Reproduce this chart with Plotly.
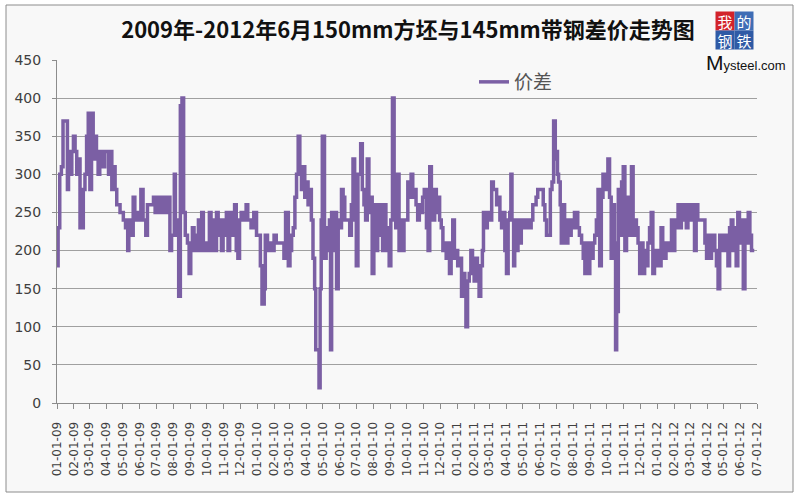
import pandas as pd
import plotly.graph_objects as go

title_text = "2009年-2012年6月150mm方坯与145mm带钢差价走势图"
series_name = "价差"
start_date = "2009-01-01"
end_date = "2012-07-01"

# days after 2009-01-01
day_offsets = [
    0, 2, 5, 8, 11, 17, 19, 21, 24, 27, 30, 33, 36, 39, 42, 46, 48, 51, 54, 57,
    60, 63, 66, 69, 72, 75, 78, 84, 87, 94, 97, 100, 103, 106, 109, 115, 121, 125, 129, 131,
    135, 139, 142, 147, 150, 153, 157, 162, 165, 170, 176, 179, 182, 188, 191, 197, 202, 206, 209, 214,
    216, 220, 222, 225, 228, 231, 234, 238, 241, 244, 247, 250, 255, 258, 261, 264, 267, 270, 273, 278,
    281, 285, 288, 291, 294, 297, 300, 303, 306, 309, 312, 315, 318, 321, 324, 327, 330, 333, 336, 339,
    342, 345, 348, 351, 354, 359, 364, 368, 371, 374, 378, 380, 384, 388, 391, 396, 400, 405, 409, 414,
    417, 422, 425, 428, 431, 434, 437, 440,
    443, 446, 449, 452, 455, 458, 461, 464, 467, 470, 472, 475, 478, 480, 482, 484, 486, 488, 491, 494,
    497, 499, 501, 504, 507, 510, 513, 516, 519, 522, 525, 528, 531, 534, 537, 540, 543, 546, 549, 554,
    557, 560, 563, 566, 569, 572, 575, 578, 582, 585, 588, 591, 594, 597, 600, 603, 606, 609, 612, 615,
    618, 621, 624, 627, 630, 633, 636, 640, 643, 646, 649, 652, 655, 658, 661, 664, 667, 670, 674, 677,
    680, 683, 686, 689, 692, 695, 698, 701, 704, 707, 710, 713, 716, 719, 722, 725, 728, 731, 734, 738,
    741, 744, 746, 749, 752, 755, 758, 761, 764, 767, 770, 773, 776, 778, 782, 785, 788, 793, 796, 799,
    802, 805, 808, 811, 814, 817, 820, 823, 826, 828, 830, 833, 835, 838, 841, 844, 847, 850, 853, 856,
    859, 862, 865, 868, 871, 874, 877,
    881, 884, 887, 890, 893, 897, 900, 903, 906, 909, 911, 913, 915, 918, 920, 923, 926, 929, 932, 935,
    938, 941, 944, 947, 950, 953, 957, 960, 963, 966, 969, 972, 975, 978, 981, 984, 987, 990, 993, 996,
    999, 1002, 1005, 1008, 1011, 1014, 1017, 1019, 1021, 1024, 1027, 1030, 1033, 1036, 1039, 1042, 1045, 1048, 1051, 1054,
    1057, 1060, 1063, 1066, 1069, 1072, 1075, 1078, 1081, 1084, 1087, 1090, 1093, 1096, 1099, 1102, 1105, 1108, 1111, 1115,
    1118, 1121, 1124, 1127, 1130, 1133, 1136, 1139, 1142, 1145, 1148, 1151, 1154, 1157, 1160, 1163, 1166, 1169, 1176, 1179,
    1182, 1185, 1188, 1191, 1194, 1197, 1200, 1203, 1206, 1209, 1212, 1215, 1218, 1221, 1224, 1227, 1230, 1233, 1236, 1239,
    1242, 1245, 1248, 1252, 1255, 1258, 1261, 1264, 1267, 1270, 1272,
]

price_diff = [
    180, 230, 300, 310, 370, 370, 280, 330, 300, 330, 350, 330, 300, 320, 230, 230, 280, 300, 350, 380,
    280, 380, 320, 350, 320, 300, 330, 310, 330, 300, 330, 280, 310, 280, 260, 250, 240, 230, 200, 240,
    220, 270, 240, 250, 240, 280, 240, 220, 260, 260, 270, 250, 270, 250, 270, 250, 270, 200, 220, 300,
    240, 220, 140, 390, 400, 250, 220, 210, 170, 210, 230, 200, 220, 240, 200, 250, 200, 210, 200, 250,
    200, 240, 200, 250, 220, 240, 200, 240, 220, 250, 200, 250, 220, 240, 260, 200, 190, 240, 250, 240,
    250, 260, 240, 240, 230, 250, 220, 220, 180, 130, 150, 220, 200, 210, 200, 220, 210, 210, 210, 190,
    250, 180, 200, 220, 230, 270, 300, 350,
    310, 280, 310, 270, 290, 260, 280, 240, 190, 150, 70, 70, 20, 150, 240, 350, 350, 190, 230, 200,
    240, 70, 250, 200, 250, 150, 240, 230, 280, 270, 240, 240, 240, 220, 260, 320, 240, 180, 300, 340,
    280, 260, 240, 320, 250, 270, 170, 260, 200, 260, 220, 260, 200, 260, 200, 230, 180, 240, 400, 300,
    230, 300, 200, 240, 200, 240, 240, 290, 270, 300, 270, 280, 260, 240, 260, 250, 270, 280, 230, 200,
    310, 280, 240, 280, 250, 270, 240, 230, 200, 210, 190, 210, 170, 200, 240, 190, 200, 180, 190, 140,
    170, 150, 100, 160, 170, 200, 180, 160, 190, 180, 140, 180, 200, 250, 230, 250, 240, 290, 280, 280,
    260, 270, 240, 230, 250, 200, 170, 240, 250, 300, 240, 180, 240, 200, 240, 210, 230, 240, 230, 240,
    240, 230, 240, 260, 260, 270, 280,
    280, 280, 260, 240, 220, 220, 280, 290, 370, 320, 330, 300, 290, 260, 210, 260, 240, 210, 240, 220,
    240, 230, 250, 250, 230, 220, 210, 190, 170, 210, 170, 210, 190, 210, 220, 240, 280, 180, 270, 300,
    280, 300, 320, 270, 190, 260, 210, 70, 120, 280, 220, 290, 310, 200, 270, 220, 240, 310, 220, 240,
    230, 210, 170, 210, 170, 200, 180, 210, 230, 250, 170, 200, 180, 200, 180, 230, 210, 190, 210, 200,
    200, 240, 200, 240, 230, 260, 230, 260, 240, 260, 230, 260, 240, 240, 260, 200, 260, 240, 240, 240,
    210, 190, 220, 190, 220, 220, 200, 180, 150, 220, 200, 220, 220, 200, 180, 230, 240, 200, 230, 180,
    250, 210, 240, 150, 240, 210, 250, 220, 200, 200, 200,
]

y_ticks = [0, 50, 100, 150, 200, 250, 300, 350, 400, 450]

dates = pd.Timestamp(start_date) + pd.to_timedelta(day_offsets, unit="D")

# plot area in pixels
L, R, T, B = 57, 757, 60, 403
W, H = 800, 500
def px(x):
    return (x - L) / (R - L)
def py(y):
    return (B - y) / (B - T)

fig = go.Figure()
fig.add_trace(go.Scatter(
    x=dates, y=price_diff, mode="lines", name=series_name,
    line=dict(color="#7b5fa4", width=3.5, shape="hv"),
    showlegend=True,
))

shapes = [
    dict(type="rect", xref="paper", yref="paper",
         x0=px(6), x1=px(793), y0=py(492), y1=py(5),
         fillcolor="#f8f8f8", line=dict(color="#8c8c8c", width=1), layer="below"),
]

annotations = []
logo = [("我", 725, 21, "#d2232a"), ("的", 744, 21, "#3f6db5"),
        ("钢", 725, 40, "#2f5aa5"), ("铁", 744, 40, "#2f5aa5")]
for ch, cx, cy, col in logo:
    annotations.append(dict(
        text=ch, x=px(cx), y=py(cy), xref="paper", yref="paper",
        showarrow=False, bgcolor=col, width=18, height=18, borderpad=0,
        font=dict(family="Noto Sans CJK SC", size=15, color="white"),
        xanchor="center", yanchor="middle"))
annotations.append(dict(
    text="<span style='font-size:21px'>M</span>ysteel.com",
    x=px(746), y=py(63), xref="paper", yref="paper", showarrow=False,
    font=dict(family="Liberation Sans Narrow, Liberation Sans", size=13, color="#111111"),
    xanchor="center", yanchor="middle"))

fig.update_layout(
    width=W, height=H,
    margin=dict(l=L, r=W - R, t=T, b=H - B, pad=0),
    paper_bgcolor="white",
    plot_bgcolor="rgba(0,0,0,0)",
    title=dict(text="<b>" + title_text + "</b>", x=408 / W, y=1 - 30 / H,
               xref="container", yref="container", xanchor="center", yanchor="middle",
               font=dict(family="Noto Sans CJK SC", size=22, color="#111111")),
    legend=dict(x=px(474), y=py(82), xanchor="left", yanchor="middle",
                bgcolor="rgba(0,0,0,0)", font=dict(family="Noto Sans CJK SC", size=19, color="#555555")),
    xaxis=dict(
        type="date", range=[start_date, end_date],
        tick0=start_date, dtick="M1", tickformat="%m-%d-%y",
        tickangle=-90, ticks="outside", ticklen=5, tickcolor="#8c8c8c",
        showline=True, linecolor="#8c8c8c", linewidth=1, showgrid=False, zeroline=False,
        tickfont=dict(family="DejaVu Sans", size=12, color="#404040"),
        ticklabelstandoff=8,
    ),
    yaxis=dict(
        range=[0, 450], tickvals=y_ticks, ticks="outside", ticklen=4, tickcolor="#8c8c8c",
        showline=True, linecolor="#8c8c8c", linewidth=1,
        showgrid=True, gridcolor="#a0a0a0", gridwidth=1, zeroline=False,
        tickfont=dict(family="DejaVu Sans", size=14, color="#404040"),
        ticklabelstandoff=8,
    ),
    shapes=shapes,
    annotations=annotations,
)

fig.write_html("out.html", config={"displayModeBar": False},
               post_script="document.body.style.margin='0';")
